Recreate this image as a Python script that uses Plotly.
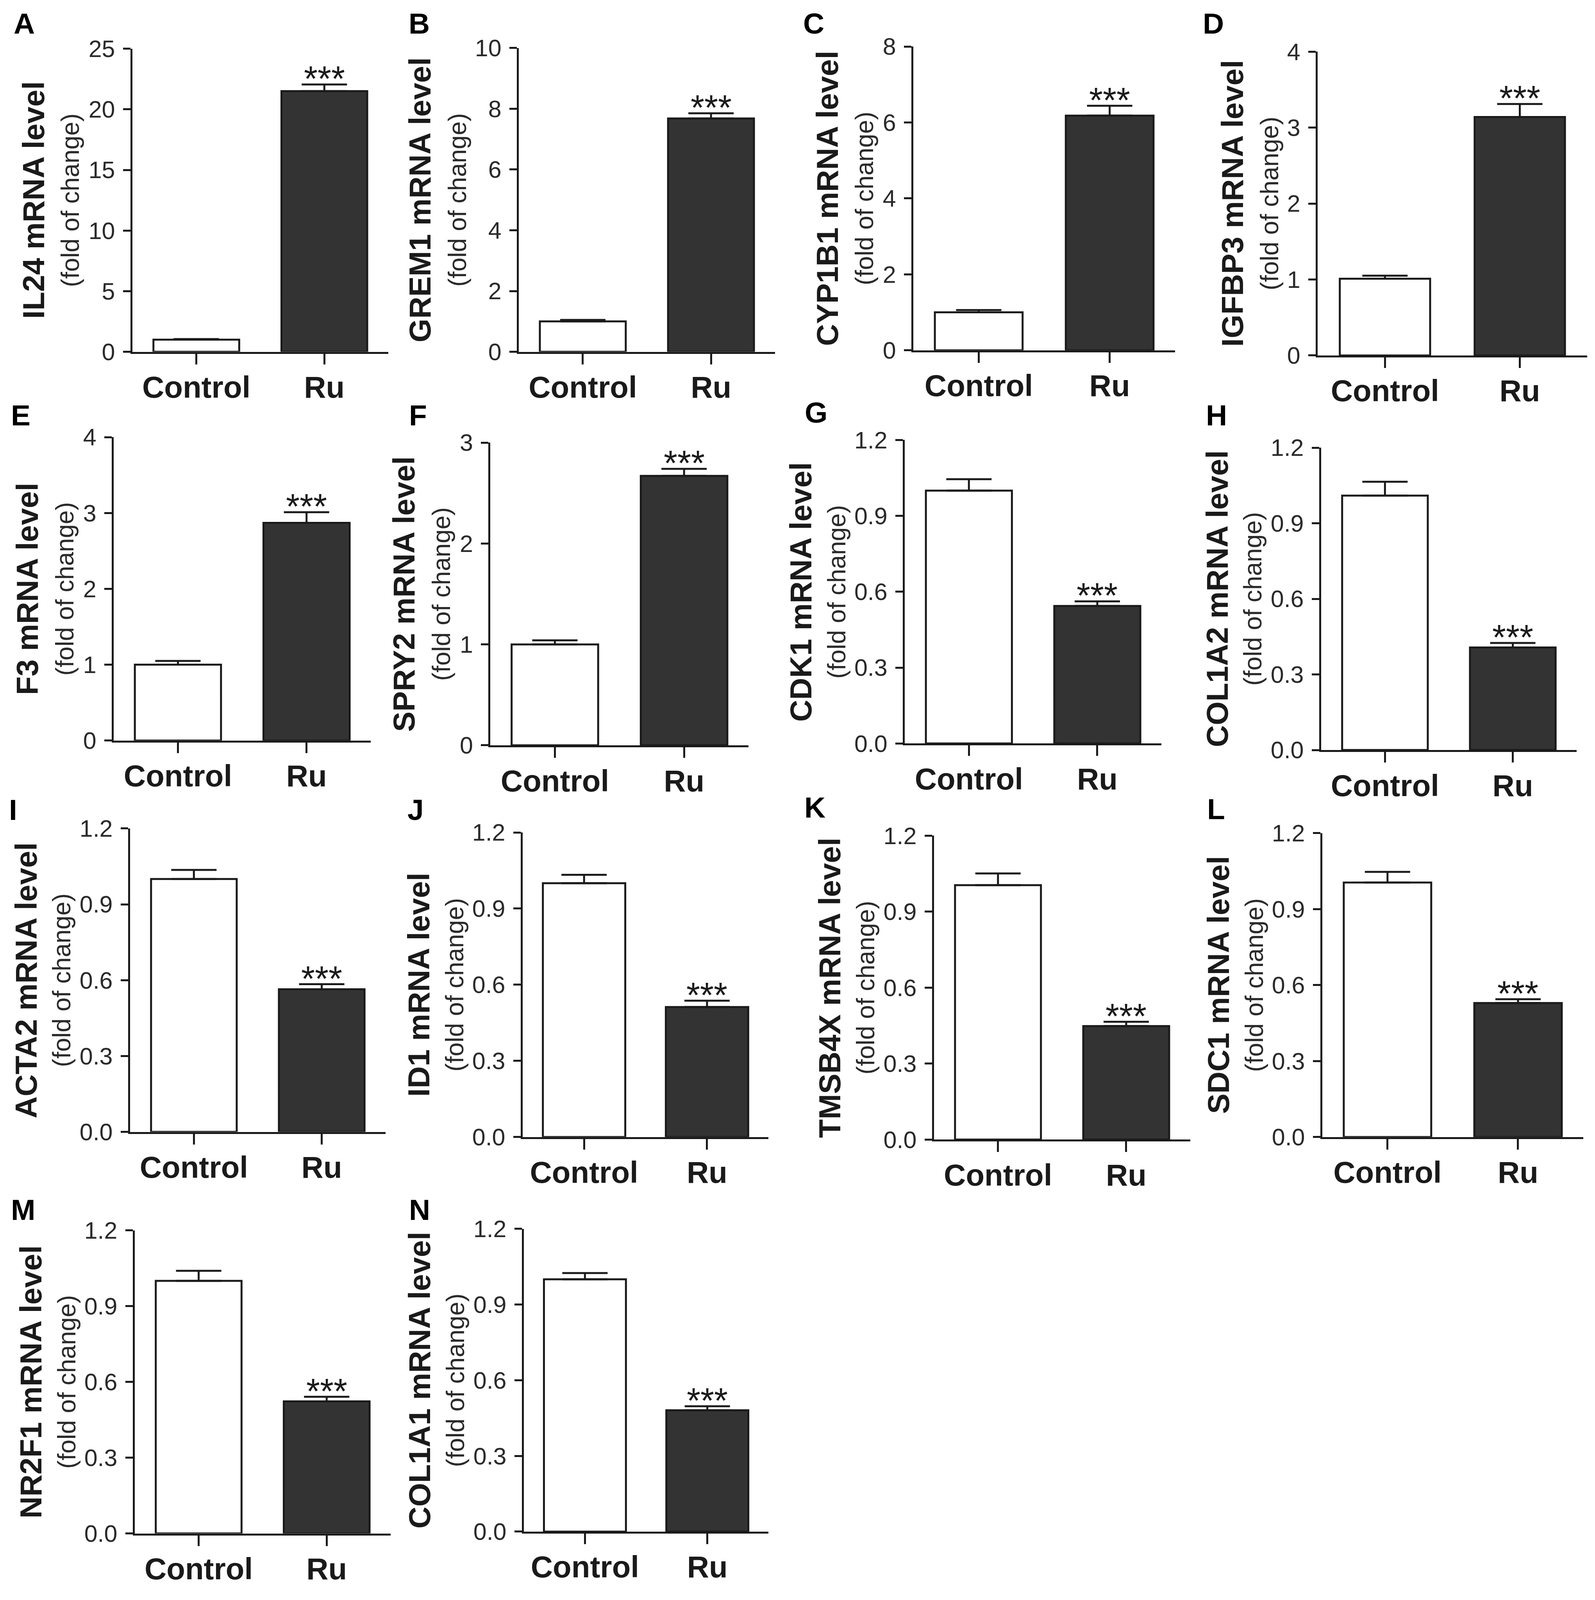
import plotly.graph_objects as go

# ---- data ----
genes = ["IL24", "GREM1", "CYP1B1", "IGFBP3", "F3", "SPRY2", "CDK1",
         "COL1A2", "ACTA2", "ID1", "TMSB4X", "SDC1", "NR2F1", "COL1A1"]
letters = ["A", "B", "C", "D", "E", "F", "G", "H", "I", "J", "K", "L", "M", "N"]
groups = ["Control", "Ru"]

control_mean = [1.0, 1.0, 1.0, 1.01, 1.0, 1.0, 1.0, 1.01, 1.0, 1.0, 1.005, 1.005, 1.0, 1.0]
control_sem = [0.05, 0.05, 0.06, 0.04, 0.05, 0.04, 0.045, 0.055, 0.036, 0.033, 0.046, 0.042, 0.04, 0.025]
ru_mean = [21.5, 7.68, 6.18, 3.14, 2.87, 2.67, 0.544, 0.407, 0.564, 0.512, 0.448, 0.529, 0.523, 0.481]
ru_sem = [0.55, 0.17, 0.26, 0.17, 0.14, 0.07, 0.018, 0.018, 0.02, 0.025, 0.017, 0.015, 0.018, 0.016]
signif = ["***"] * 14

y_max = [25, 10, 8, 4, 4, 3, 1.2, 1.2, 1.2, 1.2, 1.2, 1.2, 1.2, 1.2]
y_step = [5, 2, 2, 1, 1, 1, 0.3, 0.3, 0.3, 0.3, 0.3, 0.3, 0.3, 0.3]

# ---- panel placement, measured in reference pixels ----
W, H = 4083, 4370
ax_left = [332, 1325, 2339, 3378, 284, 1252, 2317, 3387, 326, 1335, 2392, 3390, 338, 1338]
ax_right = [990, 1984, 3012, 4071, 945, 1916, 2977, 4044, 983, 1967, 3051, 4061, 996, 1967]
ax_top = [125, 123, 119, 133, 1190, 1205, 1198, 1219, 2263, 2274, 2283, 2276, 3365, 3361]
ax_zero = [956, 956, 952, 966, 2022, 2035, 2030, 2048, 3095, 3109, 3116, 3109, 4196, 4191]
title_x = [78, 1071, 2118, 3159, 63, 1031, 2050, 3120, 59, 1068, 2125, 3123, 71, 1071]
sub_x = [172, 1167, 2214, 3255, 159, 1127, 2142, 3212, 151, 1160, 2217, 3215, 163, 1163]
letter_pos = [(54, 56), (1069, 56), (2083, 56), (3110, 56),
              (45, 1130), (1066, 1130), (2089, 1122), (3118, 1130),
              (26, 2212), (1060, 2212), (2086, 2205), (3117, 2210),
              (51, 3309), (1070, 3309)]

FONT = "Liberation Sans, Arial, sans-serif"
INK = "#1a1a1a"
LW = 5

fig = go.Figure()

for i, gene in enumerate(genes):
    n = i + 1
    xa = "x" if n == 1 else f"x{n}"
    ya = "y" if n == 1 else f"y{n}"

    fig.add_trace(go.Bar(
        x=groups, y=[control_mean[i], ru_mean[i]],
        xaxis=xa, yaxis=ya, width=0.67,
        marker=dict(color=["white", "#333333"], line=dict(color=INK, width=LW)),
        error_y=dict(type="data", symmetric=False,
                     array=[control_sem[i], ru_sem[i]], arrayminus=[0, 0],
                     color=INK, thickness=LW, width=58),
        showlegend=False,
    ))

    x_dom = [ax_left[i] / W, ax_right[i] / W]
    y_dom = [1 - ax_zero[i] / H, 1 - ax_top[i] / H]
    fmt = ".1f" if y_step[i] < 1 else "d"

    fig.update_layout({
        f"xaxis{'' if n == 1 else n}": dict(
            domain=x_dom, anchor=ya, range=[-0.5, 1.5], automargin=False,
            showline=True, linecolor=INK, linewidth=LW,
            ticks="outside", ticklen=27, tickwidth=LW, tickcolor=INK,
            tickfont=dict(family=FONT, size=78, color=INK, weight="bold"),
            ticklabelstandoff=-8, showgrid=False, zeroline=False,
        ),
        f"yaxis{'' if n == 1 else n}": dict(
            domain=y_dom, anchor=xa, range=[0, y_max[i]], automargin=False,
            tick0=0, dtick=y_step[i], tickformat=fmt,
            showline=True, linecolor=INK, linewidth=LW,
            ticks="outside", ticklen=19, tickwidth=LW, tickcolor=INK,
            tickfont=dict(family=FONT, size=61, color="#2a2a2a"),
            ticklabelstandoff=8, showgrid=False, zeroline=False,
        ),
    })

    y_mid = 1 - (ax_top[i] + ax_zero[i]) / 2 / H
    fig.add_annotation(x=title_x[i] / W, y=y_mid, xref="paper", yref="paper",
                       xanchor="center", yanchor="middle",
                       text=f"{gene} mRNA level", textangle=-90, showarrow=False,
                       font=dict(family=FONT, size=78, color=INK, weight="bold"))
    fig.add_annotation(x=sub_x[i] / W, y=y_mid, xref="paper", yref="paper",
                       xanchor="center", yanchor="middle",
                       text="(fold of change)", textangle=-90, showarrow=False,
                       font=dict(family=FONT, size=64, color="#2a2a2a"))
    lx, ly = letter_pos[i]
    fig.add_annotation(x=lx / W, y=1 - ly / H, xref="paper", yref="paper",
                       xanchor="center", yanchor="middle",
                       text=letters[i], showarrow=False,
                       font=dict(family=FONT, size=75, color="black", weight="bold"))
    fig.add_annotation(x="Ru", y=ru_mean[i] + ru_sem[i], xref=xa, yref=ya,
                       xanchor="center", text=signif[i], showarrow=False,
                       yanchor="bottom", yshift=-38,
                       font=dict(family=FONT, size=90, color=INK))

# the figure follows the window size, so nothing falls off the bottom
fig.update_layout(template="none", autosize=True,
                  margin=dict(l=0, r=0, t=0, b=0, autoexpand=False),
                  paper_bgcolor="white", plot_bgcolor="white", bargap=0.33)

fig.write_html("out.html", default_width="100%",
               default_height="calc(100vh - 16px)")
